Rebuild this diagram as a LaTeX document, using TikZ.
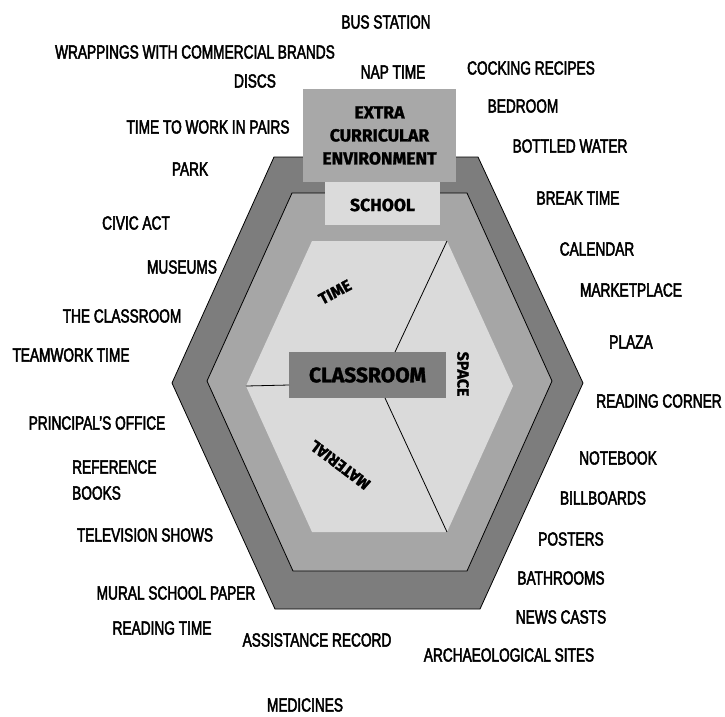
\documentclass[tikz,border=0pt]{standalone}
\usepackage{fontspec}
\newfontfamily\lblfamily[FakeStretch=0.72, FakeBold=2.4]{Liberation Sans}
\newfontfamily\hdfamily[FakeBold=1.4]{Fira Sans}
\definecolor{outerg}{gray}{0.49}
\definecolor{midg}{gray}{0.65}
\definecolor{inng}{gray}{0.855}
\definecolor{boxg}{gray}{0.66}
\definecolor{schg}{gray}{0.86}
\definecolor{clsg}{gray}{0.50}
\tikzset{
  lbl/.style={font=\lblfamily\fontsize{19}{20}\selectfont, inner sep=0pt, align=left},
  hd/.style={font=\hdfamily\bfseries\fontsize{17.5}{23}\selectfont, inner sep=0pt, align=center},
  sect/.style={font=\hdfamily\bfseries\fontsize{16}{18}\selectfont, inner sep=0pt},
  hexedge/.style={draw=black, line width=0.8pt, line join=miter},
  divline/.style={draw=black, line width=0.8pt}
}
\begin{document}
\begin{tikzpicture}[x=1pt,y=-1pt]
\useasboundingbox (0,0) rectangle (725,716);
% hexagon vertices
\coordinate (o1) at (274,157); \coordinate (o2) at (478,157); \coordinate (o3) at (583,383);
\coordinate (o4) at (480,609); \coordinate (o5) at (275,609); \coordinate (o6) at (172,383);
\coordinate (m1) at (292,193); \coordinate (m2) at (467,193); \coordinate (m3) at (552,381);
\coordinate (m4) at (467,571); \coordinate (m5) at (293,571); \coordinate (m6) at (207,381);
\coordinate (i1) at (312,241); \coordinate (i2) at (447,241); \coordinate (i3) at (513,386);
\coordinate (i4) at (447,532); \coordinate (i5) at (312,532); \coordinate (i6) at (246,386);
\path[hexedge, fill=outerg] (o1)--(o2)--(o3)--(o4)--(o5)--(o6)--cycle;
\path[hexedge, fill=midg] (m1)--(m2)--(m3)--(m4)--(m5)--(m6)--cycle;
\path[fill=inng] (i1)--(i2)--(i3)--(i4)--(i5)--(i6)--cycle;
% boxes
\node[fill=boxg, minimum width=153pt, minimum height=93pt, inner sep=0pt] (extra) at (379.5,135.5) {};
\node[hd] (extrat) at (379.5,135.5) {EXTRA\\CURRICULAR\\ENVIRONMENT};
\node[fill=schg, minimum width=115pt, minimum height=43pt, inner sep=0pt] (school) at (382.5,203.5) {};
\node[hd] (schoolt) at (382.5,205) {SCHOOL};
\node[fill=clsg, minimum width=157pt, minimum height=46pt, inner sep=0pt, font=\hdfamily\bfseries\fontsize{21}{24}\selectfont] (class) at (367.5,375) {CLASSROOM};
% dividers
\coordinate (c1) at (395,352); \coordinate (c2) at (289,385); \coordinate (c3) at (385,398);
\draw[divline] (i2) -- (c1);
\draw[divline] (i6) -- (c2);
\draw[divline] (c3) -- (i4);
% sector labels
\node[sect, rotate=28] (time) at (335,292) {TIME};
\node[sect, rotate=-90] (space) at (463,374) {SPACE};
\node[sect, rotate=143] (material) at (340,465) {MATERIAL};
% outside labels
\node[lbl] (l1) at (386,22) {BUS STATION};
\node[lbl] (l2) at (195,52) {WRAPPINGS WITH COMMERCIAL BRANDS};
\node[lbl] (l3) at (393,72) {NAP TIME};
\node[lbl] (l4) at (531,68) {COCKING RECIPES};
\node[lbl] (l5) at (255,81) {DISCS};
\node[lbl] (l6) at (523,106) {BEDROOM};
\node[lbl] (l7) at (208,127) {TIME TO WORK IN PAIRS};
\node[lbl] (l8) at (570,146) {BOTTLED WATER};
\node[lbl] (l9) at (190,169) {PARK};
\node[lbl] (l10) at (578,198) {BREAK TIME};
\node[lbl] (l11) at (136,223) {CIVIC ACT};
\node[lbl] (l12) at (597,249) {CALENDAR};
\node[lbl] (l13) at (182,267) {MUSEUMS};
\node[lbl] (l14) at (631,290) {MARKETPLACE};
\node[lbl] (l15) at (122,316) {THE CLASSROOM};
\node[lbl] (l16) at (631,342) {PLAZA};
\node[lbl] (l17) at (71,355) {TEAMWORK TIME};
\node[lbl] (l18) at (659,401) {READING CORNER};
\node[lbl] (l19) at (97,423) {PRINCIPAL’S OFFICE};
\node[lbl, anchor=west, align=left, font=\lblfamily\fontsize{19}{26}\selectfont] (l20) at (72,480) {REFERENCE\\BOOKS};
\node[lbl] (l21) at (618,458) {NOTEBOOK};
\node[lbl] (l22) at (603,498) {BILLBOARDS};
\node[lbl] (l23) at (145,535) {TELEVISION SHOWS};
\node[lbl] (l24) at (571,539) {POSTERS};
\node[lbl] (l25) at (561,578) {BATHROOMS};
\node[lbl] (l26) at (176,593) {MURAL SCHOOL PAPER};
\node[lbl] (l27) at (561,617) {NEWS CASTS};
\node[lbl] (l28) at (162,628) {READING TIME};
\node[lbl] (l29) at (317,640) {ASSISTANCE RECORD};
\node[lbl] (l30) at (509,655) {ARCHAEOLOGICAL SITES};
\node[lbl] (l31) at (305,705) {MEDICINES};
\end{tikzpicture}
\end{document}
